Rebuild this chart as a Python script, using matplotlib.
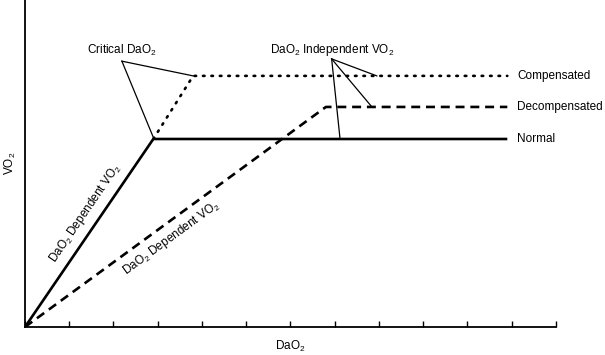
#!/usr/bin/env python3
import numpy as np
import matplotlib
matplotlib.use('Agg')
import matplotlib.pyplot as plt

OUTPUTFILE = "out.png"

# curve data (x in DaO2 tick units, y in arbitrary VO2 units)
normal_x = [0, 2.9, 10.9]
normal_y = [0, 5.75, 5.75]
comp_x = [2.9, 3.8, 10.9]
comp_y = [5.75, 7.68, 7.68]
decomp_x = [0, 6.8, 10.9]
decomp_y = [0, 6.73, 6.73]

curve_labels = ["Compensated", "Decompensated", "Normal"]
xticks = np.arange(0, 13)

plt.rcParams['font.family'] = ['Liberation Sans', 'DejaVu Sans']
plt.rcParams['mathtext.default'] = 'regular'

def main():
    fig = plt.figure(figsize=(6.05, 3.55), dpi=100)
    ax = fig.add_axes([0.0413, 0.0789, 0.8777, 0.921])

    ax.plot(normal_x, normal_y, color='black', lw=1.9, solid_capstyle='butt')
    ax.plot(comp_x, comp_y, color='black', lw=1.9, linestyle=(0, (0.6, 2.6)),
            dash_capstyle='round')
    ax.plot(decomp_x, decomp_y, color='black', lw=1.9, linestyle=(0, (3.4, 2.2)))

    ax.set_xlim(0, 12)
    ax.set_ylim(0, 10)
    ax.set_xticks(xticks)
    ax.set_xticklabels([])
    ax.set_yticks([])
    ax.tick_params(axis='x', direction='in', length=4.5, width=1.0)
    for s in ['top', 'right']:
        ax.spines[s].set_visible(False)
    for s in ['left', 'bottom']:
        ax.spines[s].set_linewidth(1.3)

    fs = 8.5
    # right-hand curve labels
    for lab, yv in zip(curve_labels, [comp_y[-1], decomp_y[-1], normal_y[-1]]):
        ax.text(11.12, yv, lab, fontsize=fs, va='center', ha='left')

    # Critical DaO2 pointer
    cx, cy = 2.19, 8.13
    ax.text(cx, 8.47, r'Critical DaO$_2$', fontsize=fs, ha='center', va='center')
    for tx, ty in [(comp_x[1], comp_y[1]), (normal_x[1], normal_y[1] + 0.05)]:
        ax.plot([cx, tx], [cy, ty], color='black', lw=0.9)

    # DaO2 Independent VO2 pointer
    ix, iy = 6.93, 8.2
    ax.text(6.95, 8.47, r'DaO$_2$ Independent VO$_2$', fontsize=fs, ha='center', va='center')
    for tx, ty in [(7.95, comp_y[-1]), (7.84, decomp_y[-1]), (7.12, normal_y[-1])]:
        ax.plot([ix, tx], [iy, ty], color='black', lw=0.9)

    # rotated labels along dependent segments
    fig.canvas.draw()
    def angle(x0, y0, x1, y1):
        p0 = ax.transData.transform((x0, y0))
        p1 = ax.transData.transform((x1, y1))
        return np.degrees(np.arctan2(p1[1] - p0[1], p1[0] - p0[0]))
    a1 = angle(normal_x[0], normal_y[0], normal_x[1], normal_y[1])
    a2 = angle(decomp_x[0], decomp_y[0], decomp_x[1], decomp_y[1])
    ax.text(1.36, 3.49, r'DaO$_2$ Dependent VO$_2$', fontsize=fs, rotation=a1,
            ha='center', va='center', rotation_mode='anchor')
    ax.text(3.3, 2.72, r'DaO$_2$ Dependent VO$_2$', fontsize=fs, rotation=a2,
            ha='center', va='center', rotation_mode='anchor')

    ax.set_xlabel(r'DaO$_2$', fontsize=fs, labelpad=5)
    ax.set_ylabel(r'VO$_2$', fontsize=fs, labelpad=5)

    fig.savefig(OUTPUTFILE, dpi=100)
    print("Graph created: " + OUTPUTFILE)

if __name__ == "__main__":
    main()
